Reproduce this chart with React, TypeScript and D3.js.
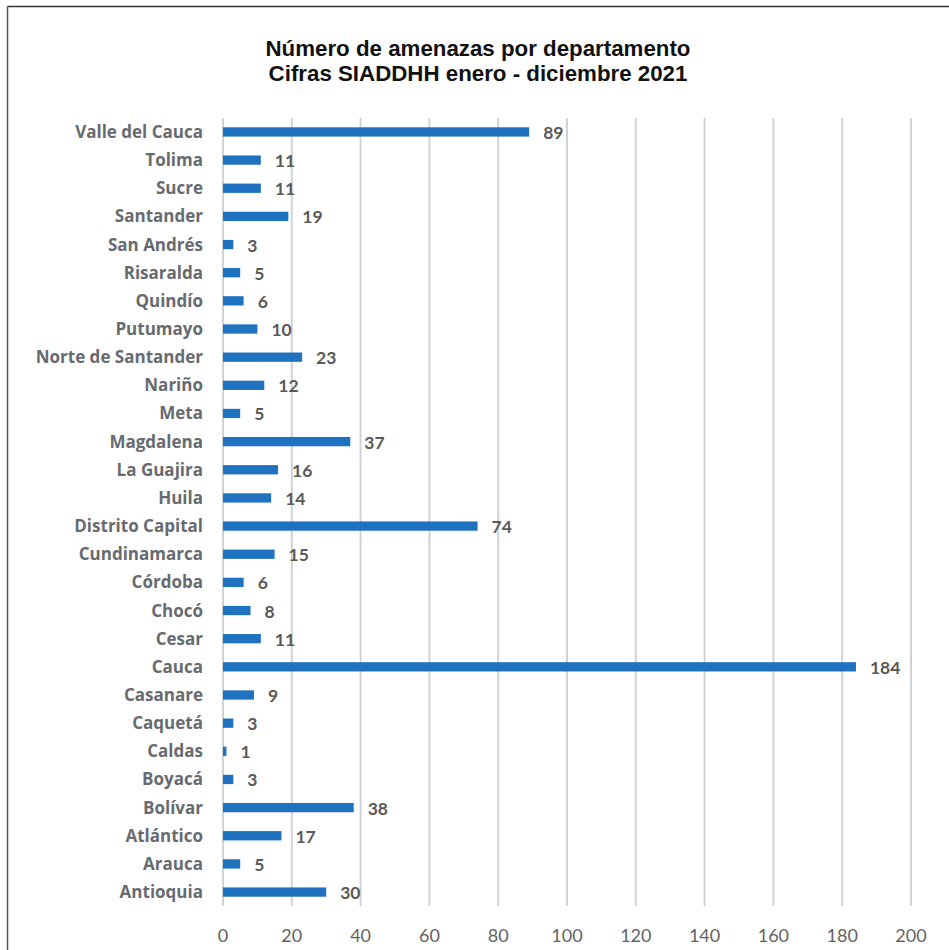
import React from "react";
import * as d3 from "d3";

const categories = [
  "Valle del Cauca", "Tolima", "Sucre", "Santander", "San Andrés", "Risaralda", "Quindío",
  "Putumayo", "Norte de Santander ", "Nariño", "Meta", "Magdalena", "La Guajira", "Huila",
  "Distrito Capital", "Cundinamarca", "Córdoba", "Chocó", "Cesar", "Cauca", "Casanare",
  "Caquetá", "Caldas", "Boyacá", "Bolívar", "Atlántico", "Arauca", "Antioquia",
];
const values = [89, 11, 11, 19, 3, 5, 6, 10, 23, 12, 5, 37, 16, 14, 74, 15, 6, 8, 11, 184, 9, 3, 1, 3, 38, 17, 5, 30];
const xTicks = [0, 20, 40, 60, 80, 100, 120, 140, 160, 180, 200];
const titleLines = ["Número de amenazas por departamento", "Cifras SIADDHH enero - diciembre 2021"];

export default function App() {
  const W = 949, H = 950;
  const x = d3.scaleLinear().domain([0, 200]).range([223, 911]);
  const y = d3.scaleBand().domain(categories).range([118, 906]).paddingInner(0.67).paddingOuter(0.33);
  const gridTop = 118, gridBottom = 906;
  const labelFont = "'Open Sans', Lato, sans-serif";
  return (
    <svg width={W} height={H} style={{ position: "absolute", left: 0, top: 0, background: "#fff" }}>
      <rect x={0} y={0} width={W} height={H} fill="#fff" />
      <line x1={7.5} y1={6.5} x2={W} y2={6.5} stroke="#333" strokeWidth={1.5} />
      <line x1={7.5} y1={6.5} x2={7.5} y2={H} stroke="#555" strokeWidth={1.5} />
      {titleLines.map((t, i) => (
        <text key={t} x={478} y={56 + i * 25} textAnchor="middle" fontFamily="'Liberation Sans', Arial, sans-serif"
          fontWeight="bold" fontSize={22.3} fill="#111">{t}</text>
      ))}
      {xTicks.map((t) => (
        <g key={t}>
          <line x1={x(t)} x2={x(t)} y1={gridTop} y2={gridBottom} stroke="#d0d3d6" strokeWidth={2} />
          <text x={x(t)} y={942} textAnchor="middle" fontFamily="Lato, sans-serif" fontSize={18} fill="#636363">{t}</text>
        </g>
      ))}
      {categories.map((c, i) => {
        const yy = y(c)!;
        const bw = y.bandwidth();
        return (
          <g key={c}>
            <rect x={x(0)} y={yy} width={x(values[i]) - x(0)} height={bw} fill="#1F72C0" />
            <text x={203} y={yy + bw / 2 + 6} textAnchor="end" fontFamily={labelFont} fontWeight="bold"
              fontSize={17} fill="#676b70">{c}</text>
            <text x={x(values[i]) + 14} y={yy + bw / 2 + 7} textAnchor="start" fontFamily="Lato, sans-serif"
              fontWeight="bold" fontSize={17.5} fill="#595959">{values[i]}</text>
          </g>
        );
      })}
    </svg>
  );
}
